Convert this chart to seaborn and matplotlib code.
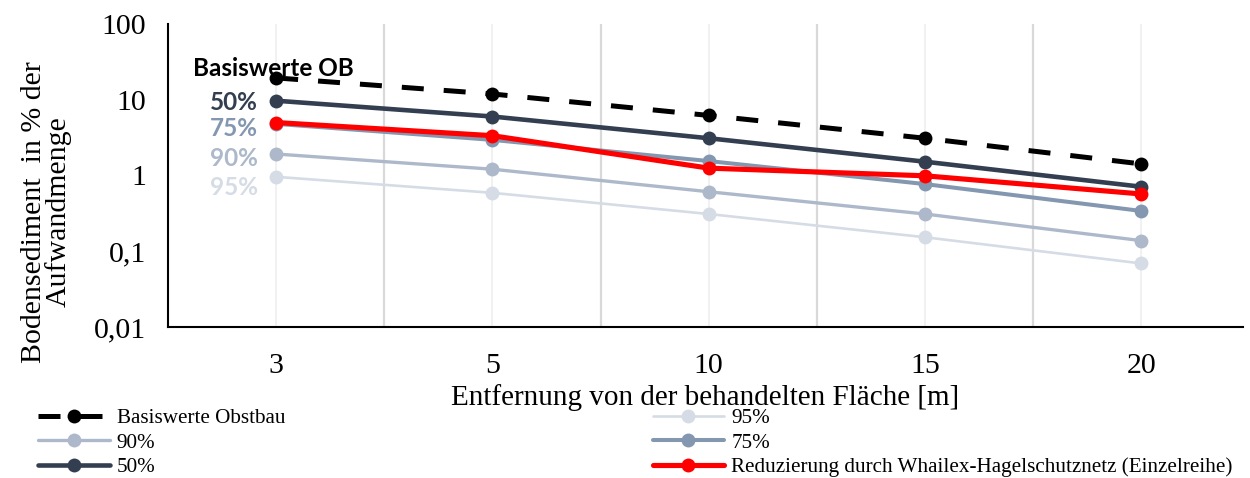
import matplotlib
matplotlib.use("Agg")
import matplotlib.pyplot as plt
import seaborn as sns
import numpy as np
import pandas as pd

# Distances from the treated area (categorical x axis)
distances = ["3", "5", "10", "15", "20"]

# Ground sediment in % of applied amount
basis_ob = [19.4, 11.9, 6.2, 3.1, 1.42]
p95 = [0.96, 0.59, 0.31, 0.153, 0.069]
p90 = [1.92, 1.21, 0.61, 0.31, 0.138]
p75 = [4.8, 2.95, 1.55, 0.77, 0.34]
p50 = [9.7, 6.0, 3.1, 1.52, 0.71]
whailex = [5.0, 3.35, 1.25, 0.99, 0.57]

y_ticks = [0.01, 0.1, 1, 10, 100]
y_ticklabels = ["0,01", "0,1", "1", "10", "100"]

sns.set_theme(style="white")
plt.rcParams["font.family"] = ["Liberation Serif", "DejaVu Serif"]

fig = plt.figure(figsize=(12.5, 4.78), dpi=100)
ax = fig.add_axes([0.1344, 0.3159, 0.86, 0.634])

pos = np.arange(len(distances))

# vertical guide lines
for p in pos:
    ax.axvline(p, color="#EFEFEF", lw=1.2, zorder=0)
for p in pos[:-1] + 0.5:
    ax.axvline(p, color="#D9D9D9", lw=1.6, zorder=0)

series = [
    ("Basiswerte Obstbau", basis_ob, "black", 3.6, (0, (4.4, 4.0)), 10),
    ("90%", p90, "#ADB9CA", 2.4, "-", 10),
    ("50%", p50, "#333F50", 3.3, "-", 10),
    ("95%", p95, "#D6DCE5", 1.9, "-", 10),
    ("75%", p75, "#8497B0", 2.9, "-", 10),
    ("Reduzierung durch Whailex-Hagelschutznetz (Einzelreihe)", whailex, "#FF0000", 3.7, "-", 10),
]
zorders = {"Basiswerte Obstbau": 6, "90%": 3, "50%": 4, "95%": 2, "75%": 3.5,
           "Reduzierung durch Whailex-Hagelschutznetz (Einzelreihe)": 5}

for name, vals, col, lw, ls, ms in series:
    df = pd.DataFrame({"pos": pos, "val": vals})
    sns.lineplot(data=df, x="pos", y="val", ax=ax, color=col, lw=lw, linestyle=ls,
                 marker="o", markersize=ms, markeredgewidth=0, label=name,
                 zorder=zorders[name])

ax.set_yscale("log")
ax.set_ylim(0.01, 100)
ax.set_xlim(-0.5, 4.47)
ax.set_yticks(y_ticks)
ax.set_yticklabels(y_ticklabels)
ax.minorticks_off()
ax.set_xticks(pos)
ax.set_xticklabels(distances)
ax.tick_params(axis="both", labelsize=21.5, direction="out", length=7, width=1.3,
               color="black", colors="black")
ax.tick_params(axis="x", pad=12)
ax.tick_params(axis="y", pad=9)

for s in ["top", "right"]:
    ax.spines[s].set_visible(False)
for s in ["left", "bottom"]:
    ax.spines[s].set_color("black")
    ax.spines[s].set_linewidth(1.5)

ax.set_xlabel("Entfernung von der behandelten Fläche [m]", fontsize=21, color="black", labelpad=3)
ax.set_ylabel("Bodensediment  in % der\nAufwandmenge", fontsize=21.5, color="black",
              linespacing=0.9)
ax.yaxis.set_label_coords(-0.0893, 0.38)

# series labels at the left end
lab_font = dict(family=["Lato", "DejaVu Sans"], fontweight="bold", fontsize=17.5)
ax.annotate("Basiswerte OB", (0, basis_ob[0]), xytext=(-2, 7), textcoords="offset points",
            ha="center", va="center", color="black", **lab_font)
for txt, vals, col, dy in [("50%", p50, "#333F50", -1), ("75%", p75, "#8497B0", -3),
                           ("90%", p90, "#ADB9CA", -3.5), ("95%", p95, "#D6DCE5", -8)]:
    ax.annotate(txt, (0, vals[0]), xytext=(-13, dy), textcoords="offset points",
                ha="right", va="center", color=col, **lab_font)

handles, labels = ax.get_legend_handles_labels()
ax.get_legend().remove()
leg = fig.legend(handles, labels, loc="upper left", bbox_to_anchor=(0.0304, 0.145), ncol=2,
                 frameon=False, fontsize=15.2, handlelength=3.4, columnspacing=17.4,
                 labelspacing=0.21, handletextpad=0.33, borderaxespad=0, borderpad=0)
for t in leg.get_texts():
    t.set_color("black")

fig.savefig("out.png", dpi=100)
